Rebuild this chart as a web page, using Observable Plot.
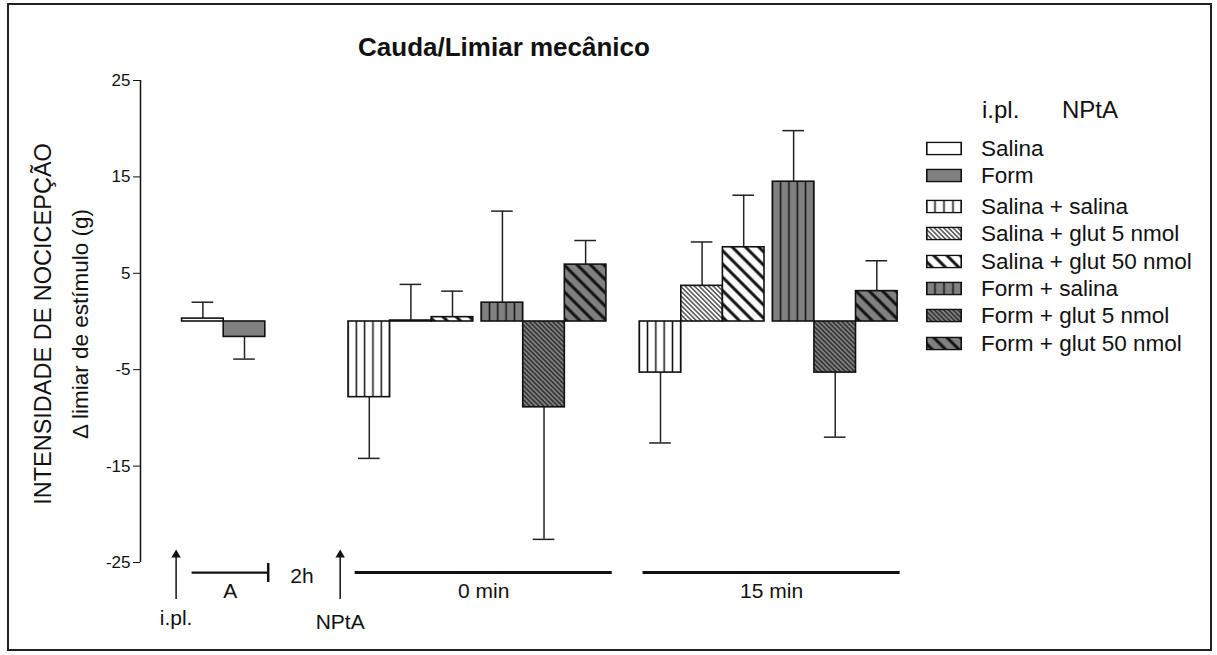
<!DOCTYPE html>
<html>
<head>
<meta charset="utf-8">
<script src="https://cdn.jsdelivr.net/npm/d3@7"></script>
<script src="https://cdn.jsdelivr.net/npm/@observablehq/plot@0.6"></script>
<style>
  body { margin: 0; background: #fff; }
  #chart { position: relative; width: 1217px; height: 655px; overflow: hidden;
           font-family: "Liberation Sans", Arial, sans-serif; color: #111; background: #fff; }
  #frame { position: absolute; left: 7px; top: 3px; width: 1201px; height: 644px;
           border: 2px solid #222; pointer-events: none; }
  #plot { position: absolute; left: 0; top: 0; }
  .title { position: absolute; left: 504px; top: 47px; transform: translate(-50%, -50%);
           font-weight: bold; font-size: 26px; white-space: nowrap; }
  .ylab { position: absolute; top: 324px; transform: translate(-50%, -50%) rotate(-90deg);
          white-space: nowrap; line-height: 1; }
  .ylab1 { left: 44px; font-size: 23.5px; }
  .ylab2 { left: 81px; font-size: 22.5px; }
  .leghead { position: absolute; top: 110px; transform: translateY(-50%); font-size: 24px; line-height: 1; }
  .legrow { position: absolute; left: 926px; height: 27px; display: flex; align-items: center;
            transform: translateY(-50%); font-size: 22.5px; white-space: nowrap; }
  .legrow svg { width: 36px; height: 14px; margin-right: 19px; flex: none; }
</style>
</head>
<body>
<div id="chart">
  <svg id="defs" width="0" height="0" style="position:absolute"><defs></defs></svg>
  <div id="plot"></div>
  <div class="title">Cauda/Limiar mecânico</div>
  <div class="ylab ylab1">INTENSIDADE DE NOCICEPÇÃO</div>
  <div class="ylab ylab2">Δ limiar de estímulo (g)</div>
  <div id="legend"></div>
  <div id="frame"></div>
</div>
<script>
// Time points along the bottom of the chart
const timePoints = ["A", "0 min", "15 min"];

// Baseline phase (A): i.pl. injection only
const baseGroups = ["Salina", "Form"];
const baseMean = [0.3, -1.6];
const baseSem = [1.7, 2.3];

// i.pl. + NPtA treatments, measured at 0 min and 15 min
const treatments = ["Salina + salina", "Salina + glut 5 nmol", "Salina + glut 50 nmol",
                    "Form + salina", "Form + glut 5 nmol", "Form + glut 50 nmol"];
const mean0 = [-7.85, 0.1, 0.45, 1.95, -8.9, 5.9];
const sem0 = [6.35, 3.75, 2.7, 9.5, 13.7, 2.5];
const mean15 = [-5.3, 3.7, 7.7, 14.5, -5.3, 3.15];
const sem15 = [7.3, 4.55, 5.4, 5.3, 6.7, 3.15];

const yTicks = [25, 15, 5, -5, -15, -25];

// fill base + hatch for every group
const seriesStyle = {
  "Salina": ["white", "solid"],
  "Form": ["gray", "solid"],
  "Salina + salina": ["white", "vert"],
  "Salina + glut 5 nmol": ["white", "thin"],
  "Salina + glut 50 nmol": ["white", "thick"],
  "Form + salina": ["gray", "vert"],
  "Form + glut 5 nmol": ["gray", "thin"],
  "Form + glut 50 nmol": ["gray", "thick"]
};
const baseColor = {white: "#ffffff", gray: "#808080"};

// bar slots: one unit per bar, a small gap between Salina and Form sub-groups
const groupStart = {"A": 0, "0 min": 4, "15 min": 11};
const rows = [];
baseGroups.forEach((name, i) => rows.push({time: timePoints[0], name, slot: groupStart["A"] + i, mean: baseMean[i], sem: baseSem[i]}));
[[timePoints[1], mean0, sem0], [timePoints[2], mean15, sem15]].forEach(([time, m, s]) => {
  treatments.forEach((name, i) => rows.push({time, name, slot: groupStart[time] + i + (i >= 3 ? 0.2 : 0), mean: m[i], sem: s[i]}));
});
rows.forEach(d => { d.end = d.mean + Math.sign(d.mean || 1) * d.sem; d.mid = d.slot + 0.5; });

// timeline under the bars (slot units / y units)
const lineY = -26.04;
const periods = [
  {label: timePoints[0], x1: 0.24, x2: 2.07, w: 2.2},
  {label: timePoints[1], x1: 4.16, x2: 10.34, w: 3},
  {label: timePoints[2], x1: 11.08, x2: 17.26, w: 3}
];
const injections = [{label: "i.pl.", x: -0.144, ty: -30.82}, {label: "NPtA", x: 3.80, ty: -31.24}];

function fillFor(name) {
  const [b, h] = seriesStyle[name];
  return h === "solid" ? baseColor[b] : `url(#pat-${b}-${h})`;
}

const barMarks = Object.keys(seriesStyle).map(name =>
  Plot.rect(rows.filter(d => d.name === name), {
    x1: "slot", x2: d => d.slot + 1, y1: () => 0, y2: "mean",
    fill: fillFor(name), stroke: "#111", strokeWidth: 1.6
  })
);

const plot = Plot.plot({
  width: 1217, height: 655,
  marginLeft: 140, marginTop: 80, marginBottom: 93, marginRight: 278,
  style: {fontFamily: "'Liberation Sans', Arial, sans-serif", fontSize: "17px", color: "#111", background: "transparent", overflow: "visible"},
  x: {domain: [-1, 18.2], range: [140, 140 + 19.2 * 41.6], axis: null},
  y: {domain: [-25, 25], range: [562, 80], ticks: yTicks, tickFormat: d => String(d), tickSize: 7, tickPadding: 3, label: null},
  marks: [
    Plot.ruleX([-1], {y1: () => d3.min(yTicks), y2: () => d3.max(yTicks), stroke: "#111", strokeWidth: 1.5}),
    Plot.ruleX(rows, {x: "mid", y1: "mean", y2: "end", stroke: "#222", strokeWidth: 1.5}),
    Plot.ruleY(rows, {y: "end", x1: d => d.mid - 0.26, x2: d => d.mid + 0.26, stroke: "#222", strokeWidth: 1.5}),
    ...barMarks,
    // timeline
    Plot.ruleY(periods, {y: () => lineY, x1: "x1", x2: "x2", stroke: "#111", strokeWidth: "w"}),
    Plot.ruleX(periods.slice(0, 1), {x: "x2", y1: () => -25.1, y2: () => -27.07, stroke: "#111", strokeWidth: 2.5}),
    Plot.text(periods, {x: d => (d.x1 + d.x2) / 2, y: () => -28.0, text: "label", fontSize: 21, fill: "#111"}),
    Plot.text(["2h"], {x: () => 2.88, y: () => -26.4, text: d => d, fontSize: 21, fill: "#111"}),
    Plot.ruleX(injections, {x: "x", y1: () => -28.84, y2: () => -24.4, stroke: "#111", strokeWidth: 1.5}),
    Plot.dot(injections, {x: "x", y: () => -24.21, symbol: "triangle", r: 3.5, fill: "#111", stroke: "none"}),
    Plot.text(injections, {x: "x", y: "ty", text: "label", fontSize: 21, fill: "#111"})
  ]
});
document.getElementById("plot").append(plot);

// hatch patterns, aligned to the bar slots
const xs = plot.scale("x");
const slotPx = xs.apply(1) - xs.apply(0);
const defs = d3.select("#defs defs");
function addPatterns(prefix, stripe, originX) {
  for (const [b, color] of Object.entries(baseColor)) {
    const v = defs.append("pattern").attr("id", `${prefix}-${b}-vert`).attr("patternUnits", "userSpaceOnUse")
      .attr("x", originX - stripe / 2).attr("y", 0).attr("width", stripe).attr("height", 10);
    v.append("rect").attr("width", stripe).attr("height", 10).attr("fill", color);
    v.append("line").attr("x1", stripe / 2).attr("x2", stripe / 2).attr("y1", 0).attr("y2", 10)
      .attr("stroke", "#111").attr("stroke-width", 1.5);
    for (const [kind, gap, w] of [["thin", 3.3, 1.1], ["thick", 9.4, 3]]) {
      const p = defs.append("pattern").attr("id", `${prefix}-${b}-${kind}`).attr("patternUnits", "userSpaceOnUse")
        .attr("width", gap).attr("height", 10).attr("patternTransform", "rotate(-45)");
      p.append("rect").attr("width", gap).attr("height", 10).attr("fill", color);
      p.append("line").attr("x1", gap / 2).attr("x2", gap / 2).attr("y1", 0).attr("y2", 10)
        .attr("stroke", "#111").attr("stroke-width", w);
    }
  }
}
addPatterns("pat", slotPx / 5, xs.apply(0));
addPatterns("leg", 9, 0);

// legend
const legend = d3.select("#legend");
legend.append("div").attr("class", "leghead").style("left", "982px").text("i.pl.");
legend.append("div").attr("class", "leghead").style("left", "1062px").text("NPtA");
const legendNames = baseGroups.concat(treatments);
legendNames.forEach((name, i) => {
  const cy = 148 + i * 27.3 + (i >= 2 ? 4 : 0);
  const row = legend.append("div").attr("class", "legrow").style("top", cy + "px");
  const sw = row.append("svg").attr("viewBox", "0 0 36 14");
  const [b, h] = seriesStyle[name];
  sw.append("rect").attr("x", 0.8).attr("y", 0.8).attr("width", 34.4).attr("height", 12.4)
    .attr("fill", h === "solid" ? baseColor[b] : `url(#leg-${b}-${h})`)
    .attr("stroke", "#111").attr("stroke-width", 1.6);
  row.append("span").text(name);
});
</script>
</body>
</html>
